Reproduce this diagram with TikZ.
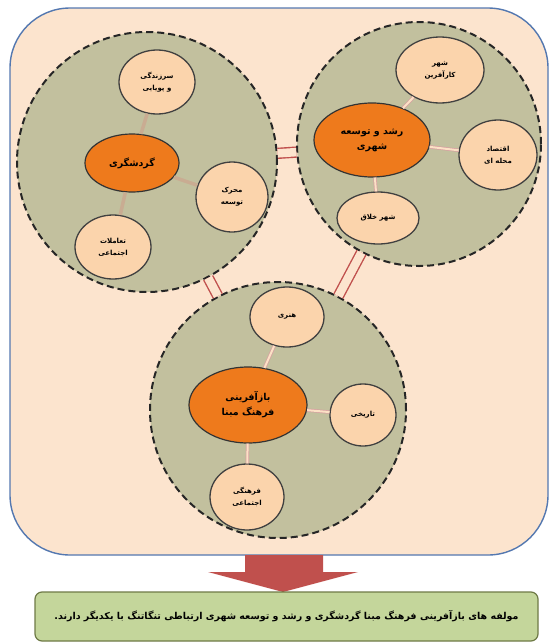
\documentclass[tikz,border=0pt]{standalone}
\usepackage{fontspec}
\usepackage{tikz}
\usetikzlibrary{shapes.geometric}
\TeXXeTstate=1
\newfontfamily\arabicfont[Script=Arabic]{DejaVu Sans}
\newcommand{\fa}[1]{{\arabicfont\bfseries\beginR #1\endR}}

\definecolor{pagefill}{RGB}{252,228,206}
\definecolor{frameblue}{RGB}{84,120,176}
\definecolor{clusterfill}{RGB}{194,192,158}
\definecolor{satfill}{RGB}{251,212,172}
\definecolor{corefill}{RGB}{238,122,28}
\definecolor{linkred}{RGB}{192,80,77}
\definecolor{spokepink}{RGB}{214,160,160}
\definecolor{spoketan}{RGB}{201,172,146}
\definecolor{notegreen}{RGB}{196,214,155}
\definecolor{noteedge}{RGB}{110,122,70}

\tikzset{
	cluster/.style={circle, draw=black!85, line width=2pt, dash pattern=on 7pt off 4pt, fill=clusterfill, inner sep=0pt},
	satellite/.style={ellipse, draw=black!75, line width=1.3pt, fill=satfill, inner sep=0pt, align=center, font=\fontsize{7}{12}\selectfont},
	core/.style={ellipse, draw=black!80, line width=1.2pt, fill=corefill, inner sep=0pt, align=center, font=\fontsize{9.5}{15}\selectfont},
	link/.style={draw=linkred, line width=1.4pt, double=pagefill, double distance=8.5pt},
	spoke/.style={draw=spokepink, line width=0.7pt, double=satfill!70, double distance=2pt},
	tanspoke/.style={draw=spoketan, line width=3.5pt},
}

\begin{document}
\begin{tikzpicture}[x=1pt, y=-1pt]
	\useasboundingbox (0,0) rectangle (553,643);
	% board
	\draw[frameblue, line width=1.4pt, fill=pagefill, rounded corners=60pt] (10,8) rectangle (548,555);

	% three clusters
	\node[cluster, minimum size=260pt] (tour) at (147,162) {};
	\node[cluster, minimum size=244pt] (urban) at (419,144) {};
	\node[cluster, minimum size=256pt] (regen) at (278,410) {};

	\draw[link] (tour) -- (urban);
	\draw[link] (tour) -- (regen);
	\draw[link] (urban) -- (regen);

	% tourism
	\node[core, minimum width=94pt, minimum height=58pt] (tourC) at (132,163) {\fa{گردشگری}};
	\node[satellite, minimum width=76pt, minimum height=64pt] (tourA) at (157,82) {\fa{سرزندگی}\\\fa{و پویایی}};
	\node[satellite, minimum width=72pt, minimum height=70pt] (tourB) at (232,197) {\fa{محرک}\\\fa{توسعه}};
	\node[satellite, minimum width=76pt, minimum height=64pt] (tourD) at (113,247) {\fa{تعاملات}\\\fa{اجتماعی}};
	\draw[tanspoke] (tourC) -- (tourA);
	\draw[tanspoke] (tourC) -- (tourB);
	\draw[tanspoke] (tourC) -- (tourD);

	% urban growth
	\node[core, minimum width=116pt, minimum height=74pt] (urbanC) at (372,140) {\fa{رشد و توسعه}\\\fa{شهری}};
	\node[satellite, minimum width=88pt, minimum height=66pt] (urbanA) at (440,70) {\fa{شهر}\\\fa{کارآفرین}};
	\node[satellite, minimum width=78pt, minimum height=70pt] (urbanB) at (498,155) {\fa{اقتصاد}\\\fa{محله ای}};
	\node[satellite, minimum width=82pt, minimum height=52pt] (urbanD) at (378,218) {\fa{شهر خلاق}};
	\draw[spoke] (urbanC) -- (urbanA);
	\draw[spoke] (urbanC) -- (urbanB);
	\draw[spoke] (urbanC) -- (urbanD);

	% culture-led regeneration
	\node[core, minimum width=118pt, minimum height=76pt] (regenC) at (248,405) {\fa{بازآفرینی}\\\fa{فرهنگ مبنا}};
	\node[satellite, minimum width=74pt, minimum height=60pt] (regenA) at (287,317) {\fa{هنری}};
	\node[satellite, minimum width=66pt, minimum height=62pt] (regenB) at (363,415) {\fa{تاریخی}};
	\node[satellite, minimum width=74pt, minimum height=66pt] (regenD) at (247,497) {\fa{فرهنگی}\\\fa{اجتماعی}};
	\draw[spoke] (regenC) -- (regenA);
	\draw[spoke] (regenC) -- (regenB);
	\draw[spoke] (regenC) -- (regenD);

	% result
	\fill[linkred] (245,555) -- (323,555) -- (323,572) -- (358,572) -- (283,592) -- (208,572) -- (245,572) -- cycle;
	\node[draw=noteedge, line width=1.2pt, fill=notegreen, rounded corners=7pt, minimum width=503pt, minimum height=49pt, font=\fontsize{9.5}{11}\selectfont] (note) at (286.5,616.5)
		{\fa{مولفه های بازآفرینی فرهنگ مبنا گردشگری و رشد و توسعه شهری ارتباطی تنگاتنگ با یکدیگر دارند.}};
\end{tikzpicture}
\end{document}
